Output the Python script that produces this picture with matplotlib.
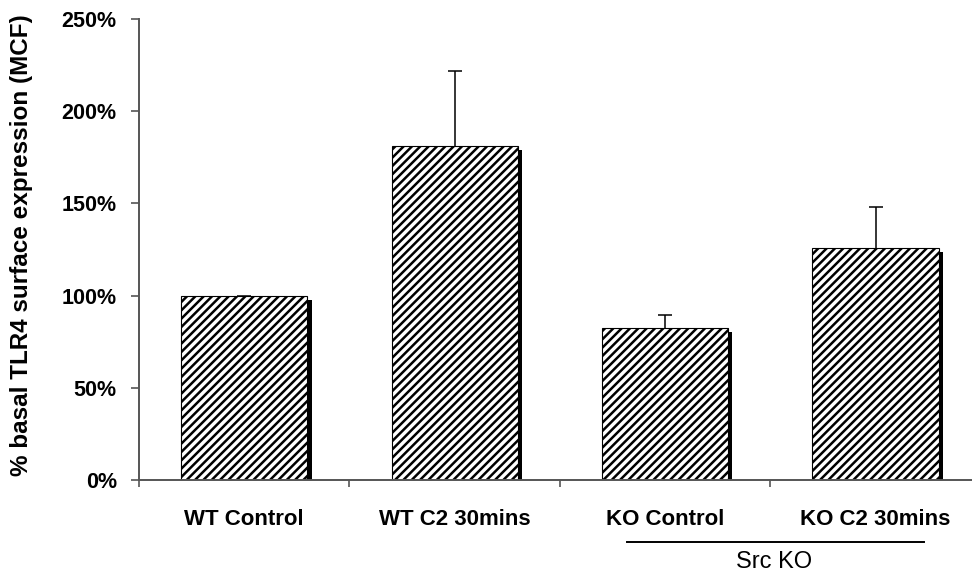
import matplotlib
matplotlib.use('Agg')
import matplotlib.pyplot as plt
import matplotlib.patheffects as pe
import numpy as np
from matplotlib.ticker import FuncFormatter

plt.rcParams['font.family'] = ['Liberation Sans', 'DejaVu Sans']
plt.rcParams['hatch.linewidth'] = 1.8
plt.rcParams['hatch.color'] = 'black'

# TLR4 surface expression, % of basal (mean + upper error)
groups = ['WT Control', 'WT C2 30mins', 'KO Control', 'KO C2 30mins']
means = [100, 181, 82.5, 126]
err_up = [0, 41, 7, 22]

fig = plt.figure(figsize=(9.72, 5.75), dpi=100)
ax = fig.add_axes([0.143, 0.165, 0.866, 0.802])

x = np.arange(len(groups))
bars = ax.bar(x, means, width=0.6, color='white', edgecolor='black',
              linewidth=0.8, hatch='////', zorder=2)
for b in bars:
    b.set_path_effects([pe.SimplePatchShadow(offset=(3, -3), shadow_rgbFace='black', alpha=1.0),
                        pe.Normal()])

eb = ax.errorbar(x, means, yerr=[np.zeros(len(groups)), err_up], fmt='none',
                 ecolor='black', elinewidth=1.1, capsize=5, capthick=1.1, zorder=3)
eb[1][0].set_visible(False)

ax.set_xlim(-0.5, len(groups) - 0.5)
ax.set_ylim(0, 250)
ax.set_yticks(np.arange(0, 251, 50))
ax.yaxis.set_major_formatter(FuncFormatter(lambda v, p: f'{v:.0f}%'))

ax.set_xticks(x)
ax.set_xticklabels(groups, fontsize=16, fontweight='bold')
ax.set_xticks(np.arange(-0.5, len(groups) - 0.4, 1.0), minor=True)
ax.tick_params(axis='x', which='major', length=0, pad=21)
ax.tick_params(axis='x', which='minor', length=5, width=1.2, color='#555555', direction='out')
ax.tick_params(axis='y', length=6, width=1.2, color='#555555', direction='out', pad=10,
               labelsize=15.5)
for t in ax.get_yticklabels():
    t.set_fontweight('bold')

for s in ['top', 'right']:
    ax.spines[s].set_visible(False)
for s in ['left', 'bottom']:
    ax.spines[s].set_color('#555555')
    ax.spines[s].set_linewidth(1.4)

ax.set_ylabel('% basal TLR4 surface expression (MCF)', fontsize=17.5, fontweight='bold')
ax.yaxis.set_label_coords(-0.126, 0.51)

# group bracket under the knockout bars
trans = matplotlib.transforms.blended_transform_factory(ax.transData, ax.transAxes)
ax.plot([1.82, 3.23], [-0.134, -0.134], color='black', linewidth=1.4,
        transform=trans, clip_on=False)
ax.text(2.52, -0.177, 'Src KO', transform=trans, ha='center', va='center', fontsize=17)

plt.savefig('out.png', dpi=100, facecolor='white')
